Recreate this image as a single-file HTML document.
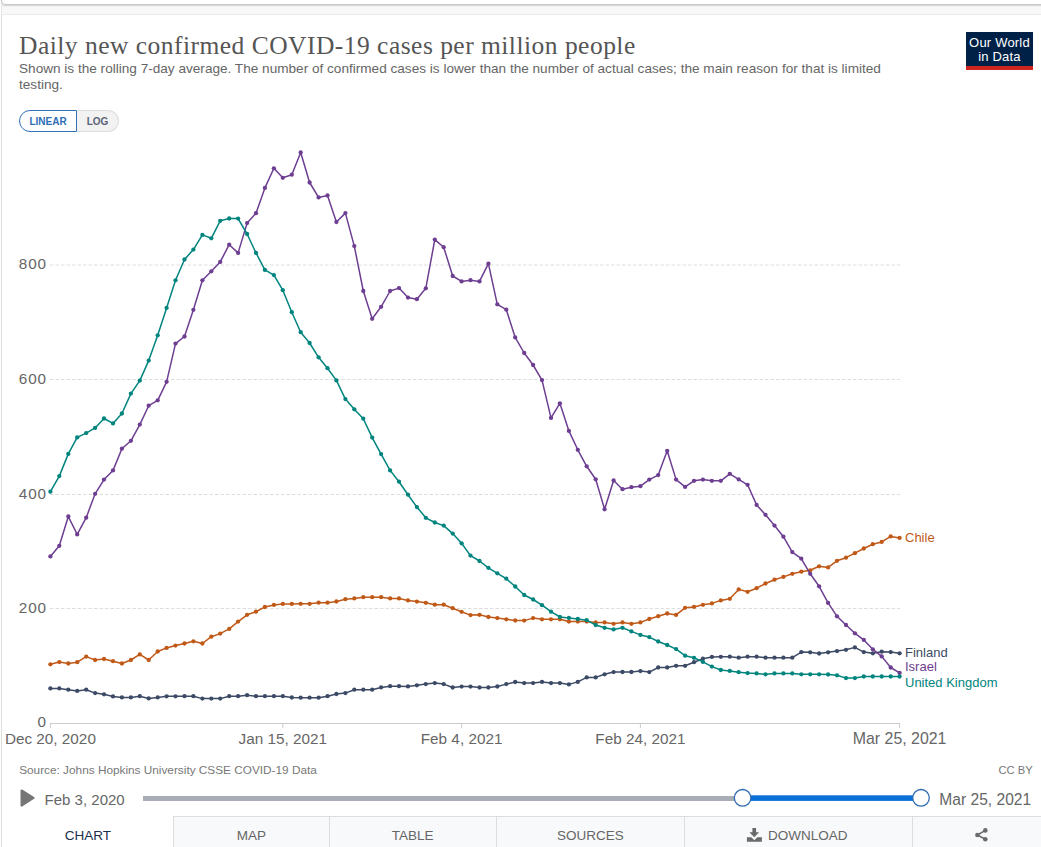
<!DOCTYPE html>
<html><head><meta charset="utf-8"><style>
html,body{margin:0;padding:0;background:#fff;width:1041px;height:847px;overflow:hidden;position:relative;font-family:"Liberation Sans",sans-serif}
.abs{position:absolute}
#topbox{left:1px;top:-6px;width:1060px;height:9px;border:1px solid #c8c8c8;border-radius:4px;background:#fff;box-shadow:0 1px 1.5px rgba(0,0,0,.15)}
#band{left:2px;top:5px;width:1039px;height:9px;background:#f8f8f8;border-bottom:1px solid #ececec}
#title{left:19px;top:31px;font-family:"Liberation Serif",serif;font-size:25.5px;letter-spacing:0.48px;color:#555;white-space:nowrap;line-height:30px}
#sub{left:19px;top:61px;font-size:13.6px;color:#666;line-height:15.6px;width:900px}
#toggle{left:19px;top:110px;height:21px;}
.tg{position:absolute;top:0;height:20px;line-height:21px;font-size:10px;font-weight:bold;text-align:center;box-sizing:content-box}
#lin{left:0;width:56px;border:1px solid #3071b8;border-radius:11px 0 0 11px;color:#2f6db5;background:#fff}
#log{left:58px;width:41px;border:1px solid #ddd;border-left:none;border-radius:0 11px 11px 0;color:#5b6377;background:#f2f2f2}
#logo{left:966px;top:32px;width:67px;height:38px;background:#002147;color:#fff;font-size:13px;line-height:14.5px;text-align:center;box-sizing:border-box;padding-top:3.6px;letter-spacing:0.2px}
#logo .red{position:absolute;left:0;bottom:0;width:67px;height:4px;background:#ce261e}
</style></head><body>
<div id="band" class="abs"></div>
<div id="topbox" class="abs"></div>
<div id="title" class="abs">Daily new confirmed COVID-19 cases per million people</div>
<div id="sub" class="abs">Shown is the rolling 7-day average. The number of confirmed cases is lower than the number of actual cases; the main reason for that is limited testing.</div>
<div id="toggle" class="abs"><div id="lin" class="tg">LINEAR</div><div id="log" class="tg">LOG</div></div>
<div id="logo" class="abs">Our World<br>in Data<div class="red"></div></div>
<svg width="1041" height="847" style="position:absolute;left:0;top:0">
<g><line x1="50" y1="608.5" x2="900" y2="608.5" stroke="#ddd" stroke-width="1" stroke-dasharray="3.5,2"/><line x1="50" y1="494.5" x2="900" y2="494.5" stroke="#ddd" stroke-width="1" stroke-dasharray="3.5,2"/><line x1="50" y1="379.5" x2="900" y2="379.5" stroke="#ddd" stroke-width="1" stroke-dasharray="3.5,2"/><line x1="50" y1="265.0" x2="900" y2="265.0" stroke="#ddd" stroke-width="1" stroke-dasharray="3.5,2"/></g>
<line x1="50" y1="723.5" x2="900" y2="723.5" stroke="#ccc" stroke-width="1"/>
<g font-family="Liberation Sans, sans-serif" font-size="15.3" fill="#666"><text x="47" y="727" text-anchor="end" letter-spacing="0.9">0</text><text x="47" y="612.5" text-anchor="end" letter-spacing="0.9">200</text><text x="47" y="498.5" text-anchor="end" letter-spacing="0.9">400</text><text x="47" y="383.5" text-anchor="end" letter-spacing="0.9">600</text><text x="47" y="269" text-anchor="end" letter-spacing="0.9">800</text><line x1="50.4" y1="723" x2="50.4" y2="728" stroke="#ccc" stroke-width="1"/><text x="50.4" y="744" text-anchor="middle">Dec 20, 2020</text><line x1="282.8" y1="723" x2="282.8" y2="728" stroke="#ccc" stroke-width="1"/><text x="282.8" y="744" text-anchor="middle">Jan 15, 2021</text><line x1="461.6" y1="723" x2="461.6" y2="728" stroke="#ccc" stroke-width="1"/><text x="461.6" y="744" text-anchor="middle">Feb 4, 2021</text><line x1="640.4" y1="723" x2="640.4" y2="728" stroke="#ccc" stroke-width="1"/><text x="640.4" y="744" text-anchor="middle">Feb 24, 2021</text><line x1="899.6" y1="723" x2="899.6" y2="728" stroke="#ccc" stroke-width="1"/><text x="899.6" y="744" text-anchor="middle" font-size="15.9">Mar 25, 2021</text></g>
<polyline points="50.4,688.4 59.3,688.4 68.3,689.7 77.2,690.9 86.2,689.7 95.1,693.1 104.0,694.3 113.0,696.4 121.9,697.4 130.9,697.4 139.8,696.2 148.7,698.4 157.7,697.4 166.6,696.3 175.5,696.3 184.5,696.2 193.4,696.2 202.4,698.6 211.3,698.6 220.2,698.6 229.2,696.2 238.1,696.2 247.1,695.2 256.0,696.2 264.9,696.2 273.9,696.2 282.8,696.2 291.8,697.5 300.7,697.7 309.6,697.7 318.6,697.7 327.5,696.2 336.4,694.0 345.4,693.1 354.3,689.7 363.3,689.7 372.2,689.7 381.1,687.4 390.1,686.2 399.0,686.2 408.0,686.4 416.9,685.3 425.8,684.1 434.8,683.1 443.7,684.1 452.7,687.5 461.6,686.6 470.5,686.6 479.5,687.5 488.4,687.5 497.3,686.5 506.3,684.1 515.2,682.0 524.2,683.1 533.1,683.1 542.0,681.9 551.0,683.1 559.9,683.1 568.9,684.4 577.8,681.9 586.7,677.4 595.7,677.4 604.6,674.3 613.6,672.1 622.5,672.0 631.4,672.0 640.4,671.1 649.3,672.1 658.2,667.5 667.2,667.5 676.1,665.8 685.1,665.8 694.0,662.2 702.9,658.7 711.9,656.9 720.8,656.8 729.8,656.7 738.7,657.7 747.6,656.7 756.6,656.7 765.5,657.7 774.5,657.7 783.4,657.7 792.3,657.7 801.3,652.1 810.2,652.3 819.1,653.5 828.1,652.3 837.0,651.1 846.0,649.8 854.9,647.4 863.8,652.1 872.8,653.3 881.7,651.7 890.7,652.1 899.6,653.3" fill="none" stroke="#3c4a66" stroke-width="1.5" stroke-linejoin="round"/><g fill="#3c4a66"><circle cx="50.4" cy="688.4" r="2.15"/><circle cx="59.3" cy="688.4" r="2.15"/><circle cx="68.3" cy="689.7" r="2.15"/><circle cx="77.2" cy="690.9" r="2.15"/><circle cx="86.2" cy="689.7" r="2.15"/><circle cx="95.1" cy="693.1" r="2.15"/><circle cx="104.0" cy="694.3" r="2.15"/><circle cx="113.0" cy="696.4" r="2.15"/><circle cx="121.9" cy="697.4" r="2.15"/><circle cx="130.9" cy="697.4" r="2.15"/><circle cx="139.8" cy="696.2" r="2.15"/><circle cx="148.7" cy="698.4" r="2.15"/><circle cx="157.7" cy="697.4" r="2.15"/><circle cx="166.6" cy="696.3" r="2.15"/><circle cx="175.5" cy="696.3" r="2.15"/><circle cx="184.5" cy="696.2" r="2.15"/><circle cx="193.4" cy="696.2" r="2.15"/><circle cx="202.4" cy="698.6" r="2.15"/><circle cx="211.3" cy="698.6" r="2.15"/><circle cx="220.2" cy="698.6" r="2.15"/><circle cx="229.2" cy="696.2" r="2.15"/><circle cx="238.1" cy="696.2" r="2.15"/><circle cx="247.1" cy="695.2" r="2.15"/><circle cx="256.0" cy="696.2" r="2.15"/><circle cx="264.9" cy="696.2" r="2.15"/><circle cx="273.9" cy="696.2" r="2.15"/><circle cx="282.8" cy="696.2" r="2.15"/><circle cx="291.8" cy="697.5" r="2.15"/><circle cx="300.7" cy="697.7" r="2.15"/><circle cx="309.6" cy="697.7" r="2.15"/><circle cx="318.6" cy="697.7" r="2.15"/><circle cx="327.5" cy="696.2" r="2.15"/><circle cx="336.4" cy="694.0" r="2.15"/><circle cx="345.4" cy="693.1" r="2.15"/><circle cx="354.3" cy="689.7" r="2.15"/><circle cx="363.3" cy="689.7" r="2.15"/><circle cx="372.2" cy="689.7" r="2.15"/><circle cx="381.1" cy="687.4" r="2.15"/><circle cx="390.1" cy="686.2" r="2.15"/><circle cx="399.0" cy="686.2" r="2.15"/><circle cx="408.0" cy="686.4" r="2.15"/><circle cx="416.9" cy="685.3" r="2.15"/><circle cx="425.8" cy="684.1" r="2.15"/><circle cx="434.8" cy="683.1" r="2.15"/><circle cx="443.7" cy="684.1" r="2.15"/><circle cx="452.7" cy="687.5" r="2.15"/><circle cx="461.6" cy="686.6" r="2.15"/><circle cx="470.5" cy="686.6" r="2.15"/><circle cx="479.5" cy="687.5" r="2.15"/><circle cx="488.4" cy="687.5" r="2.15"/><circle cx="497.3" cy="686.5" r="2.15"/><circle cx="506.3" cy="684.1" r="2.15"/><circle cx="515.2" cy="682.0" r="2.15"/><circle cx="524.2" cy="683.1" r="2.15"/><circle cx="533.1" cy="683.1" r="2.15"/><circle cx="542.0" cy="681.9" r="2.15"/><circle cx="551.0" cy="683.1" r="2.15"/><circle cx="559.9" cy="683.1" r="2.15"/><circle cx="568.9" cy="684.4" r="2.15"/><circle cx="577.8" cy="681.9" r="2.15"/><circle cx="586.7" cy="677.4" r="2.15"/><circle cx="595.7" cy="677.4" r="2.15"/><circle cx="604.6" cy="674.3" r="2.15"/><circle cx="613.6" cy="672.1" r="2.15"/><circle cx="622.5" cy="672.0" r="2.15"/><circle cx="631.4" cy="672.0" r="2.15"/><circle cx="640.4" cy="671.1" r="2.15"/><circle cx="649.3" cy="672.1" r="2.15"/><circle cx="658.2" cy="667.5" r="2.15"/><circle cx="667.2" cy="667.5" r="2.15"/><circle cx="676.1" cy="665.8" r="2.15"/><circle cx="685.1" cy="665.8" r="2.15"/><circle cx="694.0" cy="662.2" r="2.15"/><circle cx="702.9" cy="658.7" r="2.15"/><circle cx="711.9" cy="656.9" r="2.15"/><circle cx="720.8" cy="656.8" r="2.15"/><circle cx="729.8" cy="656.7" r="2.15"/><circle cx="738.7" cy="657.7" r="2.15"/><circle cx="747.6" cy="656.7" r="2.15"/><circle cx="756.6" cy="656.7" r="2.15"/><circle cx="765.5" cy="657.7" r="2.15"/><circle cx="774.5" cy="657.7" r="2.15"/><circle cx="783.4" cy="657.7" r="2.15"/><circle cx="792.3" cy="657.7" r="2.15"/><circle cx="801.3" cy="652.1" r="2.15"/><circle cx="810.2" cy="652.3" r="2.15"/><circle cx="819.1" cy="653.5" r="2.15"/><circle cx="828.1" cy="652.3" r="2.15"/><circle cx="837.0" cy="651.1" r="2.15"/><circle cx="846.0" cy="649.8" r="2.15"/><circle cx="854.9" cy="647.4" r="2.15"/><circle cx="863.8" cy="652.1" r="2.15"/><circle cx="872.8" cy="653.3" r="2.15"/><circle cx="881.7" cy="651.7" r="2.15"/><circle cx="890.7" cy="652.1" r="2.15"/><circle cx="899.6" cy="653.3" r="2.15"/></g>
<polyline points="50.4,664.3 59.3,662.1 68.3,663.5 77.2,662.2 86.2,656.6 95.1,660.0 104.0,659.0 113.0,661.2 121.9,663.5 130.9,660.0 139.8,654.4 148.7,660.0 157.7,651.5 166.6,647.9 175.5,645.6 184.5,643.5 193.4,641.3 202.4,643.5 211.3,636.7 220.2,633.6 229.2,628.9 238.1,621.6 247.1,614.8 256.0,611.7 264.9,607.0 273.9,604.9 282.8,603.9 291.8,603.9 300.7,603.8 309.6,603.8 318.6,602.7 327.5,602.7 336.4,601.5 345.4,599.2 354.3,598.4 363.3,597.2 372.2,597.2 381.1,597.2 390.1,598.4 399.0,598.4 408.0,600.4 416.9,601.6 425.8,602.8 434.8,604.7 443.7,604.7 452.7,608.2 461.6,611.8 470.5,615.1 479.5,614.8 488.4,617.0 497.3,618.1 506.3,619.3 515.2,620.5 524.2,620.6 533.1,618.1 542.0,619.3 551.0,619.3 559.9,619.3 568.9,621.6 577.8,621.6 586.7,621.6 595.7,622.4 604.6,622.4 613.6,623.8 622.5,622.4 631.4,623.8 640.4,622.4 649.3,619.0 658.2,616.2 667.2,613.5 676.1,614.9 685.1,607.8 694.0,606.9 702.9,604.8 711.9,603.4 720.8,600.4 729.8,598.8 738.7,589.4 747.6,591.8 756.6,588.2 765.5,583.5 774.5,579.7 783.4,576.9 792.3,573.8 801.3,571.7 810.2,570.3 819.1,566.3 828.1,567.4 837.0,560.8 846.0,557.7 854.9,553.2 863.8,548.5 872.8,544.2 881.7,541.9 890.7,536.4 899.6,537.9" fill="none" stroke="#c05917" stroke-width="1.5" stroke-linejoin="round"/><g fill="#c05917"><circle cx="50.4" cy="664.3" r="2.15"/><circle cx="59.3" cy="662.1" r="2.15"/><circle cx="68.3" cy="663.5" r="2.15"/><circle cx="77.2" cy="662.2" r="2.15"/><circle cx="86.2" cy="656.6" r="2.15"/><circle cx="95.1" cy="660.0" r="2.15"/><circle cx="104.0" cy="659.0" r="2.15"/><circle cx="113.0" cy="661.2" r="2.15"/><circle cx="121.9" cy="663.5" r="2.15"/><circle cx="130.9" cy="660.0" r="2.15"/><circle cx="139.8" cy="654.4" r="2.15"/><circle cx="148.7" cy="660.0" r="2.15"/><circle cx="157.7" cy="651.5" r="2.15"/><circle cx="166.6" cy="647.9" r="2.15"/><circle cx="175.5" cy="645.6" r="2.15"/><circle cx="184.5" cy="643.5" r="2.15"/><circle cx="193.4" cy="641.3" r="2.15"/><circle cx="202.4" cy="643.5" r="2.15"/><circle cx="211.3" cy="636.7" r="2.15"/><circle cx="220.2" cy="633.6" r="2.15"/><circle cx="229.2" cy="628.9" r="2.15"/><circle cx="238.1" cy="621.6" r="2.15"/><circle cx="247.1" cy="614.8" r="2.15"/><circle cx="256.0" cy="611.7" r="2.15"/><circle cx="264.9" cy="607.0" r="2.15"/><circle cx="273.9" cy="604.9" r="2.15"/><circle cx="282.8" cy="603.9" r="2.15"/><circle cx="291.8" cy="603.9" r="2.15"/><circle cx="300.7" cy="603.8" r="2.15"/><circle cx="309.6" cy="603.8" r="2.15"/><circle cx="318.6" cy="602.7" r="2.15"/><circle cx="327.5" cy="602.7" r="2.15"/><circle cx="336.4" cy="601.5" r="2.15"/><circle cx="345.4" cy="599.2" r="2.15"/><circle cx="354.3" cy="598.4" r="2.15"/><circle cx="363.3" cy="597.2" r="2.15"/><circle cx="372.2" cy="597.2" r="2.15"/><circle cx="381.1" cy="597.2" r="2.15"/><circle cx="390.1" cy="598.4" r="2.15"/><circle cx="399.0" cy="598.4" r="2.15"/><circle cx="408.0" cy="600.4" r="2.15"/><circle cx="416.9" cy="601.6" r="2.15"/><circle cx="425.8" cy="602.8" r="2.15"/><circle cx="434.8" cy="604.7" r="2.15"/><circle cx="443.7" cy="604.7" r="2.15"/><circle cx="452.7" cy="608.2" r="2.15"/><circle cx="461.6" cy="611.8" r="2.15"/><circle cx="470.5" cy="615.1" r="2.15"/><circle cx="479.5" cy="614.8" r="2.15"/><circle cx="488.4" cy="617.0" r="2.15"/><circle cx="497.3" cy="618.1" r="2.15"/><circle cx="506.3" cy="619.3" r="2.15"/><circle cx="515.2" cy="620.5" r="2.15"/><circle cx="524.2" cy="620.6" r="2.15"/><circle cx="533.1" cy="618.1" r="2.15"/><circle cx="542.0" cy="619.3" r="2.15"/><circle cx="551.0" cy="619.3" r="2.15"/><circle cx="559.9" cy="619.3" r="2.15"/><circle cx="568.9" cy="621.6" r="2.15"/><circle cx="577.8" cy="621.6" r="2.15"/><circle cx="586.7" cy="621.6" r="2.15"/><circle cx="595.7" cy="622.4" r="2.15"/><circle cx="604.6" cy="622.4" r="2.15"/><circle cx="613.6" cy="623.8" r="2.15"/><circle cx="622.5" cy="622.4" r="2.15"/><circle cx="631.4" cy="623.8" r="2.15"/><circle cx="640.4" cy="622.4" r="2.15"/><circle cx="649.3" cy="619.0" r="2.15"/><circle cx="658.2" cy="616.2" r="2.15"/><circle cx="667.2" cy="613.5" r="2.15"/><circle cx="676.1" cy="614.9" r="2.15"/><circle cx="685.1" cy="607.8" r="2.15"/><circle cx="694.0" cy="606.9" r="2.15"/><circle cx="702.9" cy="604.8" r="2.15"/><circle cx="711.9" cy="603.4" r="2.15"/><circle cx="720.8" cy="600.4" r="2.15"/><circle cx="729.8" cy="598.8" r="2.15"/><circle cx="738.7" cy="589.4" r="2.15"/><circle cx="747.6" cy="591.8" r="2.15"/><circle cx="756.6" cy="588.2" r="2.15"/><circle cx="765.5" cy="583.5" r="2.15"/><circle cx="774.5" cy="579.7" r="2.15"/><circle cx="783.4" cy="576.9" r="2.15"/><circle cx="792.3" cy="573.8" r="2.15"/><circle cx="801.3" cy="571.7" r="2.15"/><circle cx="810.2" cy="570.3" r="2.15"/><circle cx="819.1" cy="566.3" r="2.15"/><circle cx="828.1" cy="567.4" r="2.15"/><circle cx="837.0" cy="560.8" r="2.15"/><circle cx="846.0" cy="557.7" r="2.15"/><circle cx="854.9" cy="553.2" r="2.15"/><circle cx="863.8" cy="548.5" r="2.15"/><circle cx="872.8" cy="544.2" r="2.15"/><circle cx="881.7" cy="541.9" r="2.15"/><circle cx="890.7" cy="536.4" r="2.15"/><circle cx="899.6" cy="537.9" r="2.15"/></g>
<polyline points="50.4,556.4 59.3,545.8 68.3,516.5 77.2,534.4 86.2,517.7 95.1,493.8 104.0,479.6 113.0,470.4 121.9,448.7 130.9,440.8 139.8,424.6 148.7,405.7 157.7,400.3 166.6,381.8 175.5,343.6 184.5,336.5 193.4,309.8 202.4,280.3 211.3,271.3 220.2,261.9 229.2,244.7 238.1,252.9 247.1,223.1 256.0,213.2 264.9,187.9 273.9,168.3 282.8,177.8 291.8,174.7 300.7,152.5 309.6,182.5 318.6,197.4 327.5,195.5 336.4,222.0 345.4,213.1 354.3,246.1 363.3,291.0 372.2,318.8 381.1,306.8 390.1,291.0 399.0,288.1 408.0,297.6 416.9,299.2 425.8,288.3 434.8,239.6 443.7,247.2 452.7,276.0 461.6,281.4 470.5,280.2 479.5,281.4 488.4,263.7 497.3,304.3 506.3,309.7 515.2,337.4 524.2,353.0 533.1,365.0 542.0,380.1 551.0,417.9 559.9,403.3 568.9,430.9 577.8,449.8 586.7,466.3 595.7,479.3 604.6,509.3 613.6,480.5 622.5,489.2 631.4,487.2 640.4,486.2 649.3,479.6 658.2,475.1 667.2,450.8 676.1,479.6 685.1,486.9 694.0,480.8 702.9,479.6 711.9,480.8 720.8,480.8 729.8,473.8 738.7,479.4 747.6,484.8 756.6,504.9 765.5,514.8 774.5,525.6 783.4,536.7 792.3,552.1 801.3,558.7 810.2,573.8 819.1,586.3 828.1,602.9 837.0,616.3 846.0,625.0 854.9,633.3 863.8,639.9 872.8,649.3 881.7,656.4 890.7,667.5 899.6,672.9" fill="none" stroke="#6d3e91" stroke-width="1.5" stroke-linejoin="round"/><g fill="#6d3e91"><circle cx="50.4" cy="556.4" r="2.15"/><circle cx="59.3" cy="545.8" r="2.15"/><circle cx="68.3" cy="516.5" r="2.15"/><circle cx="77.2" cy="534.4" r="2.15"/><circle cx="86.2" cy="517.7" r="2.15"/><circle cx="95.1" cy="493.8" r="2.15"/><circle cx="104.0" cy="479.6" r="2.15"/><circle cx="113.0" cy="470.4" r="2.15"/><circle cx="121.9" cy="448.7" r="2.15"/><circle cx="130.9" cy="440.8" r="2.15"/><circle cx="139.8" cy="424.6" r="2.15"/><circle cx="148.7" cy="405.7" r="2.15"/><circle cx="157.7" cy="400.3" r="2.15"/><circle cx="166.6" cy="381.8" r="2.15"/><circle cx="175.5" cy="343.6" r="2.15"/><circle cx="184.5" cy="336.5" r="2.15"/><circle cx="193.4" cy="309.8" r="2.15"/><circle cx="202.4" cy="280.3" r="2.15"/><circle cx="211.3" cy="271.3" r="2.15"/><circle cx="220.2" cy="261.9" r="2.15"/><circle cx="229.2" cy="244.7" r="2.15"/><circle cx="238.1" cy="252.9" r="2.15"/><circle cx="247.1" cy="223.1" r="2.15"/><circle cx="256.0" cy="213.2" r="2.15"/><circle cx="264.9" cy="187.9" r="2.15"/><circle cx="273.9" cy="168.3" r="2.15"/><circle cx="282.8" cy="177.8" r="2.15"/><circle cx="291.8" cy="174.7" r="2.15"/><circle cx="300.7" cy="152.5" r="2.15"/><circle cx="309.6" cy="182.5" r="2.15"/><circle cx="318.6" cy="197.4" r="2.15"/><circle cx="327.5" cy="195.5" r="2.15"/><circle cx="336.4" cy="222.0" r="2.15"/><circle cx="345.4" cy="213.1" r="2.15"/><circle cx="354.3" cy="246.1" r="2.15"/><circle cx="363.3" cy="291.0" r="2.15"/><circle cx="372.2" cy="318.8" r="2.15"/><circle cx="381.1" cy="306.8" r="2.15"/><circle cx="390.1" cy="291.0" r="2.15"/><circle cx="399.0" cy="288.1" r="2.15"/><circle cx="408.0" cy="297.6" r="2.15"/><circle cx="416.9" cy="299.2" r="2.15"/><circle cx="425.8" cy="288.3" r="2.15"/><circle cx="434.8" cy="239.6" r="2.15"/><circle cx="443.7" cy="247.2" r="2.15"/><circle cx="452.7" cy="276.0" r="2.15"/><circle cx="461.6" cy="281.4" r="2.15"/><circle cx="470.5" cy="280.2" r="2.15"/><circle cx="479.5" cy="281.4" r="2.15"/><circle cx="488.4" cy="263.7" r="2.15"/><circle cx="497.3" cy="304.3" r="2.15"/><circle cx="506.3" cy="309.7" r="2.15"/><circle cx="515.2" cy="337.4" r="2.15"/><circle cx="524.2" cy="353.0" r="2.15"/><circle cx="533.1" cy="365.0" r="2.15"/><circle cx="542.0" cy="380.1" r="2.15"/><circle cx="551.0" cy="417.9" r="2.15"/><circle cx="559.9" cy="403.3" r="2.15"/><circle cx="568.9" cy="430.9" r="2.15"/><circle cx="577.8" cy="449.8" r="2.15"/><circle cx="586.7" cy="466.3" r="2.15"/><circle cx="595.7" cy="479.3" r="2.15"/><circle cx="604.6" cy="509.3" r="2.15"/><circle cx="613.6" cy="480.5" r="2.15"/><circle cx="622.5" cy="489.2" r="2.15"/><circle cx="631.4" cy="487.2" r="2.15"/><circle cx="640.4" cy="486.2" r="2.15"/><circle cx="649.3" cy="479.6" r="2.15"/><circle cx="658.2" cy="475.1" r="2.15"/><circle cx="667.2" cy="450.8" r="2.15"/><circle cx="676.1" cy="479.6" r="2.15"/><circle cx="685.1" cy="486.9" r="2.15"/><circle cx="694.0" cy="480.8" r="2.15"/><circle cx="702.9" cy="479.6" r="2.15"/><circle cx="711.9" cy="480.8" r="2.15"/><circle cx="720.8" cy="480.8" r="2.15"/><circle cx="729.8" cy="473.8" r="2.15"/><circle cx="738.7" cy="479.4" r="2.15"/><circle cx="747.6" cy="484.8" r="2.15"/><circle cx="756.6" cy="504.9" r="2.15"/><circle cx="765.5" cy="514.8" r="2.15"/><circle cx="774.5" cy="525.6" r="2.15"/><circle cx="783.4" cy="536.7" r="2.15"/><circle cx="792.3" cy="552.1" r="2.15"/><circle cx="801.3" cy="558.7" r="2.15"/><circle cx="810.2" cy="573.8" r="2.15"/><circle cx="819.1" cy="586.3" r="2.15"/><circle cx="828.1" cy="602.9" r="2.15"/><circle cx="837.0" cy="616.3" r="2.15"/><circle cx="846.0" cy="625.0" r="2.15"/><circle cx="854.9" cy="633.3" r="2.15"/><circle cx="863.8" cy="639.9" r="2.15"/><circle cx="872.8" cy="649.3" r="2.15"/><circle cx="881.7" cy="656.4" r="2.15"/><circle cx="890.7" cy="667.5" r="2.15"/><circle cx="899.6" cy="672.9" r="2.15"/></g>
<polyline points="50.4,491.7 59.3,476.1 68.3,453.9 77.2,437.4 86.2,433.1 95.1,427.9 104.0,418.5 113.0,423.4 121.9,413.5 130.9,393.6 139.8,380.6 148.7,360.6 157.7,335.3 166.6,307.9 175.5,280.3 184.5,259.5 193.4,249.6 202.4,234.9 211.3,238.3 220.2,220.8 229.2,218.5 238.1,218.6 247.1,234.0 256.0,252.9 264.9,269.9 273.9,275.1 282.8,290.2 291.8,312.2 300.7,332.2 309.6,343.0 318.6,357.3 327.5,368.2 336.4,380.4 345.4,399.1 354.3,409.3 363.3,418.7 372.2,437.6 381.1,454.1 390.1,470.4 399.0,481.7 408.0,494.7 416.9,507.1 425.8,517.8 434.8,522.5 443.7,525.6 452.7,533.6 461.6,543.3 470.5,555.6 479.5,561.0 488.4,567.8 497.3,573.3 506.3,578.7 515.2,586.5 524.2,595.0 533.1,599.5 542.0,605.2 551.0,611.7 559.9,617.0 568.9,617.9 577.8,619.0 586.7,620.2 595.7,625.0 604.6,627.8 613.6,629.4 622.5,627.8 631.4,631.4 640.4,634.9 649.3,637.1 658.2,641.5 667.2,645.0 676.1,649.1 685.1,655.7 694.0,657.8 702.9,661.9 711.9,666.6 720.8,670.0 729.8,670.9 738.7,672.2 747.6,673.1 756.6,673.4 765.5,674.3 774.5,673.4 783.4,673.4 792.3,673.4 801.3,674.3 810.2,674.3 819.1,674.3 828.1,674.5 837.0,675.3 846.0,678.1 854.9,678.1 863.8,676.5 872.8,676.5 881.7,676.5 890.7,676.5 899.6,676.5" fill="none" stroke="#00847e" stroke-width="1.5" stroke-linejoin="round"/><g fill="#00847e"><circle cx="50.4" cy="491.7" r="2.15"/><circle cx="59.3" cy="476.1" r="2.15"/><circle cx="68.3" cy="453.9" r="2.15"/><circle cx="77.2" cy="437.4" r="2.15"/><circle cx="86.2" cy="433.1" r="2.15"/><circle cx="95.1" cy="427.9" r="2.15"/><circle cx="104.0" cy="418.5" r="2.15"/><circle cx="113.0" cy="423.4" r="2.15"/><circle cx="121.9" cy="413.5" r="2.15"/><circle cx="130.9" cy="393.6" r="2.15"/><circle cx="139.8" cy="380.6" r="2.15"/><circle cx="148.7" cy="360.6" r="2.15"/><circle cx="157.7" cy="335.3" r="2.15"/><circle cx="166.6" cy="307.9" r="2.15"/><circle cx="175.5" cy="280.3" r="2.15"/><circle cx="184.5" cy="259.5" r="2.15"/><circle cx="193.4" cy="249.6" r="2.15"/><circle cx="202.4" cy="234.9" r="2.15"/><circle cx="211.3" cy="238.3" r="2.15"/><circle cx="220.2" cy="220.8" r="2.15"/><circle cx="229.2" cy="218.5" r="2.15"/><circle cx="238.1" cy="218.6" r="2.15"/><circle cx="247.1" cy="234.0" r="2.15"/><circle cx="256.0" cy="252.9" r="2.15"/><circle cx="264.9" cy="269.9" r="2.15"/><circle cx="273.9" cy="275.1" r="2.15"/><circle cx="282.8" cy="290.2" r="2.15"/><circle cx="291.8" cy="312.2" r="2.15"/><circle cx="300.7" cy="332.2" r="2.15"/><circle cx="309.6" cy="343.0" r="2.15"/><circle cx="318.6" cy="357.3" r="2.15"/><circle cx="327.5" cy="368.2" r="2.15"/><circle cx="336.4" cy="380.4" r="2.15"/><circle cx="345.4" cy="399.1" r="2.15"/><circle cx="354.3" cy="409.3" r="2.15"/><circle cx="363.3" cy="418.7" r="2.15"/><circle cx="372.2" cy="437.6" r="2.15"/><circle cx="381.1" cy="454.1" r="2.15"/><circle cx="390.1" cy="470.4" r="2.15"/><circle cx="399.0" cy="481.7" r="2.15"/><circle cx="408.0" cy="494.7" r="2.15"/><circle cx="416.9" cy="507.1" r="2.15"/><circle cx="425.8" cy="517.8" r="2.15"/><circle cx="434.8" cy="522.5" r="2.15"/><circle cx="443.7" cy="525.6" r="2.15"/><circle cx="452.7" cy="533.6" r="2.15"/><circle cx="461.6" cy="543.3" r="2.15"/><circle cx="470.5" cy="555.6" r="2.15"/><circle cx="479.5" cy="561.0" r="2.15"/><circle cx="488.4" cy="567.8" r="2.15"/><circle cx="497.3" cy="573.3" r="2.15"/><circle cx="506.3" cy="578.7" r="2.15"/><circle cx="515.2" cy="586.5" r="2.15"/><circle cx="524.2" cy="595.0" r="2.15"/><circle cx="533.1" cy="599.5" r="2.15"/><circle cx="542.0" cy="605.2" r="2.15"/><circle cx="551.0" cy="611.7" r="2.15"/><circle cx="559.9" cy="617.0" r="2.15"/><circle cx="568.9" cy="617.9" r="2.15"/><circle cx="577.8" cy="619.0" r="2.15"/><circle cx="586.7" cy="620.2" r="2.15"/><circle cx="595.7" cy="625.0" r="2.15"/><circle cx="604.6" cy="627.8" r="2.15"/><circle cx="613.6" cy="629.4" r="2.15"/><circle cx="622.5" cy="627.8" r="2.15"/><circle cx="631.4" cy="631.4" r="2.15"/><circle cx="640.4" cy="634.9" r="2.15"/><circle cx="649.3" cy="637.1" r="2.15"/><circle cx="658.2" cy="641.5" r="2.15"/><circle cx="667.2" cy="645.0" r="2.15"/><circle cx="676.1" cy="649.1" r="2.15"/><circle cx="685.1" cy="655.7" r="2.15"/><circle cx="694.0" cy="657.8" r="2.15"/><circle cx="702.9" cy="661.9" r="2.15"/><circle cx="711.9" cy="666.6" r="2.15"/><circle cx="720.8" cy="670.0" r="2.15"/><circle cx="729.8" cy="670.9" r="2.15"/><circle cx="738.7" cy="672.2" r="2.15"/><circle cx="747.6" cy="673.1" r="2.15"/><circle cx="756.6" cy="673.4" r="2.15"/><circle cx="765.5" cy="674.3" r="2.15"/><circle cx="774.5" cy="673.4" r="2.15"/><circle cx="783.4" cy="673.4" r="2.15"/><circle cx="792.3" cy="673.4" r="2.15"/><circle cx="801.3" cy="674.3" r="2.15"/><circle cx="810.2" cy="674.3" r="2.15"/><circle cx="819.1" cy="674.3" r="2.15"/><circle cx="828.1" cy="674.5" r="2.15"/><circle cx="837.0" cy="675.3" r="2.15"/><circle cx="846.0" cy="678.1" r="2.15"/><circle cx="854.9" cy="678.1" r="2.15"/><circle cx="863.8" cy="676.5" r="2.15"/><circle cx="872.8" cy="676.5" r="2.15"/><circle cx="881.7" cy="676.5" r="2.15"/><circle cx="890.7" cy="676.5" r="2.15"/><circle cx="899.6" cy="676.5" r="2.15"/></g>
<g font-family="Liberation Sans, sans-serif" font-size="13">
<text x="905" y="541.5" fill="#c05917">Chile</text>
<text x="905" y="656.5" fill="#3c4a66">Finland</text>
<text x="905" y="671" fill="#6d3e91">Israel</text>
<text x="905" y="687" fill="#00847e">United Kingdom</text>
</g>
<g font-family="Liberation Sans, sans-serif" fill="#777">
<text x="19.2" y="774" font-size="11.8">Source: Johns Hopkins University CSSE COVID-19 Data</text>
<text x="998.5" y="774" font-size="11.2">CC BY</text>
</g>
<path d="M21.6,790.5 L33.5,797.9 L21.6,805.5 Z" fill="#767676" stroke="#767676" stroke-width="2.2" stroke-linejoin="round"/>
<g font-family="Liberation Sans, sans-serif" fill="#666">
<text x="44.6" y="804.6" font-size="15">Feb 3, 2020</text>
<text x="939.3" y="805" font-size="15.6">Mar 25, 2021</text>
</g>
<rect x="143" y="796" width="600" height="5" fill="#a9aeb6"/>
<rect x="742" y="795.3" width="180" height="5.6" fill="#0a70d8"/>
<circle cx="742.6" cy="797.8" r="8.3" fill="#fff" stroke="#2d6bb0" stroke-width="1.3"/>
<circle cx="921" cy="797.8" r="8.3" fill="#fff" stroke="#2d6bb0" stroke-width="1.3"/>
</svg>
<svg width="1041" height="847" style="position:absolute;left:0;top:0">
<rect x="0" y="816" width="1041" height="31" fill="#f8f9fb"/>
<rect x="0" y="816" width="173" height="31" fill="#fff"/>
<line x1="173" y1="816.5" x2="1041" y2="816.5" stroke="#ddd"/>
<g stroke="#ddd">
<line x1="173.5" y1="816" x2="173.5" y2="847"/>
<line x1="329.5" y1="816" x2="329.5" y2="847"/>
<line x1="496.5" y1="816" x2="496.5" y2="847"/>
<line x1="684.5" y1="816" x2="684.5" y2="847"/>
<line x1="912.5" y1="816" x2="912.5" y2="847"/>
</g>
<line x1="1.5" y1="15" x2="1.5" y2="847" stroke="#ddd"/><line x1="1.5" y1="5" x2="1.5" y2="15" stroke="#e8e8e8"/>
<g font-family="Liberation Sans, sans-serif" font-size="13.5" fill="#666" text-anchor="middle">
<text x="88" y="839.7" fill="#1a3150">CHART</text>
<text x="251.3" y="839.8">MAP</text>
<text x="412.6" y="839.8">TABLE</text>
<text x="590.4" y="839.8">SOURCES</text>
<text x="807.7" y="839.5">DOWNLOAD</text>
</g>
<g fill="#6b6b6b">
<path d="M752.4,828 h3.7 v4.3 h3 l-4.85,5 l-4.85,-5 h3 z"/>
<path d="M746.9,837.2 h4.4 l3,3 l3,-3 h4.6 v4.6 h-15 z"/>
</g>
<g fill="#6b6b6b" stroke="#6b6b6b">
<circle cx="985.3" cy="830.4" r="2.3" stroke="none"/>
<circle cx="977.4" cy="835" r="2.3" stroke="none"/>
<circle cx="985.3" cy="839.3" r="2.3" stroke="none"/>
<path d="M985.3,830.4 L977.4,835 L985.3,839.3" fill="none" stroke-width="1.6"/>
</g>
</svg>
</body></html>
